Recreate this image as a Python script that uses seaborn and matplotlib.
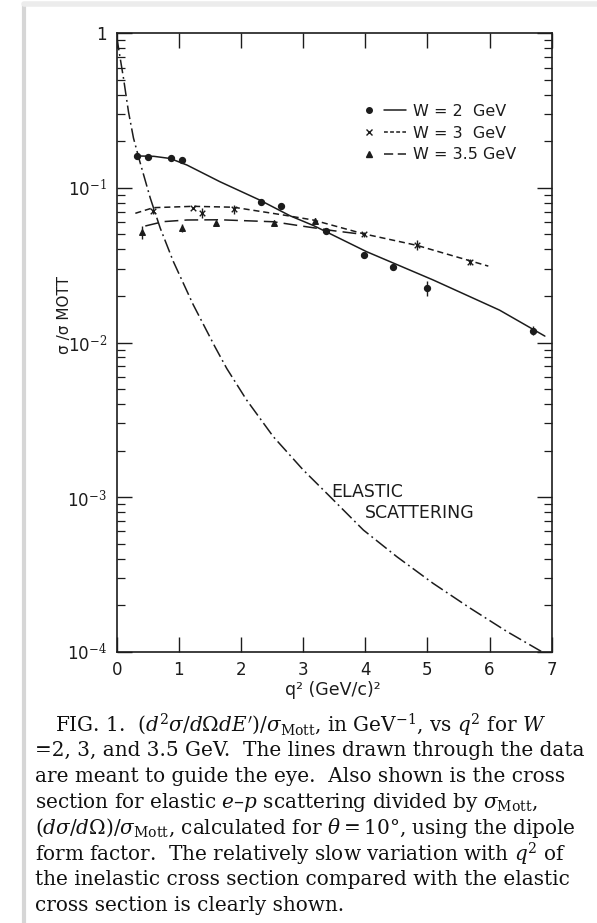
import numpy as np
import matplotlib
matplotlib.use("Agg")
import matplotlib.pyplot as plt
from matplotlib.lines import Line2D
from matplotlib.legend_handler import HandlerTuple
from matplotlib.ticker import FixedLocator, FuncFormatter, NullFormatter
import pandas as pd
import seaborn as sns

# measured points (q^2 in (GeV/c)^2, sigma/sigma_Mott)
w2_q2 = [0.32, 0.50, 0.87, 1.05, 2.32, 2.64, 3.37, 3.98, 4.45, 4.99, 6.70]
w2_val = [0.160, 0.158, 0.156, 0.152, 0.0814, 0.0764, 0.0529, 0.0368, 0.0309, 0.0224, 0.0119]
w2_err = [0.0, 0.0, 0.0, 0.0, 0.0, 0.0, 0.0, 0.0, 0.0, 0.0025, 0.0008]

w3_q2 = [0.58, 1.23, 1.37, 1.88, 3.98, 4.83, 5.69]
w3_val = [0.0712, 0.0741, 0.0688, 0.0725, 0.0501, 0.0427, 0.0333]
w3_err = [0.003, 0.0, 0.005, 0.005, 0.002, 0.003, 0.0015]

w35_q2 = [0.41, 1.05, 1.59, 2.53, 3.19]
w35_val = [0.0519, 0.0550, 0.0593, 0.0596, 0.0614]
w35_err = [0.005, 0.003, 0.0, 0.0, 0.002]

# lines drawn through the data
w2_line_q2 = [0.32, 0.60, 0.86, 1.13, 1.66, 2.30, 2.79, 3.17, 4.02, 5.09, 6.16, 6.89]
w2_line_val = [0.161, 0.160, 0.155, 0.1406, 0.1097, 0.0835, 0.0660, 0.0570, 0.0387, 0.0254, 0.0162, 0.0110]

w3_line_q2 = [0.30, 0.59, 1.23, 1.88, 2.68, 3.16, 3.97, 4.83, 5.98]
w3_line_val = [0.0685, 0.0745, 0.0760, 0.0750, 0.0668, 0.0620, 0.0505, 0.0425, 0.0312]

w35_line_q2 = [0.46, 0.75, 1.13, 1.66, 2.52, 3.05, 3.48, 3.97]
w35_line_val = [0.0567, 0.0605, 0.0620, 0.0622, 0.0604, 0.0561, 0.0529, 0.0500]

# elastic e-p curve
el_q2 = [0.0, 0.03, 0.11, 0.19, 0.27, 0.37, 0.54, 0.70, 0.91, 1.23, 1.58, 1.77, 2.09,
         2.52, 3.00, 3.43, 3.97, 4.51, 5.09, 5.69, 6.28, 6.84]
el_val = [0.95, 0.80, 0.51, 0.31, 0.21, 0.149, 0.086, 0.055, 0.0335, 0.0176, 0.0094, 0.0068,
          0.00425, 0.00246, 0.0015, 0.00101, 0.000612, 0.000411, 0.000277, 0.000191,
          0.000135, 0.000100]

legend_labels = ["W = 2  GeV", "W = 3  GeV", "W = 3.5 GeV"]
x_ticks = [0, 1, 2, 3, 4, 5, 6, 7]
y_major = [1e-4, 1e-3, 1e-2, 1e-1, 1]

caption = [
    r"FIG. 1.  $(d^2\sigma/d\Omega dE')/\sigma_{\rm Mott}$, in GeV$^{-1}$, vs $q^2$ for $W$",
    "=2, 3, and 3.5 GeV.  The lines drawn through the data",
    "are meant to guide the eye.  Also shown is the cross",
    r"section for elastic $e$–$p$ scattering divided by $\sigma_{\rm Mott}$,",
    r"$(d\sigma/d\Omega)/\sigma_{\rm Mott}$, calculated for $\theta=10°$, using the dipole",
    r"form factor.  The relatively slow variation with $q^2$ of",
    "the inelastic cross section compared with the elastic",
    "cross section is clearly shown.",
]

sns.set_theme(style="ticks")
plt.rcParams["font.family"] = ["DejaVu Sans"]
plt.rcParams["mathtext.fontset"] = "dejavuserif"
ink = "#1c1c1c"

fig = plt.figure(figsize=(5.97, 9.23), dpi=100)
fig.patch.set_facecolor("white")
W, H = 597.0, 923.0
ax = fig.add_axes([116.7 / W, 1 - 651.7 / H, 435.0 / W, 618.4 / H])

# page edge shadow
fig.add_artist(Line2D([24 / W, 24 / W], [0, 1 - 5 / H], transform=fig.transFigure,
                      color="#d6d6d6", lw=3))
fig.add_artist(Line2D([24 / W, 1], [1 - 4 / H, 1 - 4 / H], transform=fig.transFigure,
                      color="#ececec", lw=4))

def curve(xs, ys, style):
    d = pd.DataFrame({"q2": xs, "v": ys})
    sns.lineplot(data=d, x="q2", y="v", ax=ax, color=ink, lw=1.1, sort=False,
                 estimator=None, linestyle=style, legend=False)

curve(w2_line_q2, w2_line_val, "-")
curve(w3_line_q2, w3_line_val, (0, (4, 2.5)))
curve(w35_line_q2, w35_line_val, (0, (9, 4)))
curve(el_q2, el_val, (0, (9, 2.5, 1.2, 2.5)))

for xs, ys, es, mk, ms in [(w2_q2, w2_val, w2_err, "o", 18),
                           (w3_q2, w3_val, w3_err, "x", 16),
                           (w35_q2, w35_val, w35_err, "^", 16)]:
    d = pd.DataFrame({"q2": xs, "v": ys})
    sns.scatterplot(data=d, x="q2", y="v", ax=ax, marker=mk, s=ms, color=ink,
                    edgecolor=ink, linewidth=1.0, legend=False, zorder=3)
    e = np.array(es)
    keep = e > 0
    ax.errorbar(np.array(xs)[keep], np.array(ys)[keep], yerr=e[keep], fmt="none",
                ecolor=ink, elinewidth=1.0, capsize=0)

ax.set_yscale("log")
ax.set_xlim(0, 7)
ax.set_ylim(1e-4, 1)
ax.set_xlabel("")
ax.set_ylabel("")

ax.xaxis.set_major_locator(FixedLocator(x_ticks))
ax.yaxis.set_major_locator(FixedLocator(y_major))
minors = [m * 10.0 ** k for k in range(-4, 0) for m in range(2, 10)]
ax.yaxis.set_minor_locator(FixedLocator(minors))
ax.yaxis.set_minor_formatter(NullFormatter())

def ylab(v, pos):
    if v >= 1:
        return "1"
    return r"10$^{%d}$" % int(round(np.log10(v)))

ax.yaxis.set_major_formatter(FuncFormatter(ylab))
ax.tick_params(which="both", direction="in", top=True, right=True, color=ink,
               labelcolor=ink, labelsize=12)
ax.tick_params(which="major", length=11, width=1.0, pad=7)
ax.tick_params(which="minor", length=6, width=0.9)
for s in ax.spines.values():
    s.set_color(ink)
    s.set_linewidth(1.2)

ax.text(3.46, 1.08e-3, "ELASTIC", fontsize=12.5, color=ink, va="center")
ax.text(4.0, 7.9e-4, "SCATTERING", fontsize=12.5, color=ink, va="center")

ax.text(-0.12, 0.545, "σ /σ MOTT", transform=ax.transAxes, rotation=90,
        ha="center", va="center", fontsize=11, color=ink)
fig.text(333 / W, 1 - 690 / H, "q² (GeV/c)²", ha="center", va="center",
         fontsize=12.5, color=ink)

handles = [
    (Line2D([], [], marker="o", ms=4, ls="none", color=ink),
     Line2D([], [], ls="-", lw=1.1, color=ink)),
    (Line2D([], [], marker="x", ms=4, ls="none", color=ink),
     Line2D([], [], ls=(0, (2.5, 1.5)), lw=1.1, color=ink)),
    (Line2D([], [], marker="^", ms=4, ls="none", color=ink),
     Line2D([], [], ls=(0, (6, 3)), lw=1.1, color=ink)),
]
ax.legend(handles, legend_labels, handler_map={tuple: HandlerTuple(ndivide=None, pad=0.26)},
          loc="upper right", bbox_to_anchor=(0.9365, 0.899), frameon=False, borderpad=0,
          fontsize=11.5, handlelength=3.0, handletextpad=0.44, labelspacing=0.43,
          labelcolor=ink)

y0 = 725
for i, line in enumerate(caption):
    x = 55 if i == 0 else 35
    fig.text(x / W, 1 - (y0 + i * 25.8) / H, line, ha="left", va="center",
             fontsize=14.4, family="DejaVu Serif", color="#111111")

fig.savefig("out.png", dpi=100, facecolor="white")
